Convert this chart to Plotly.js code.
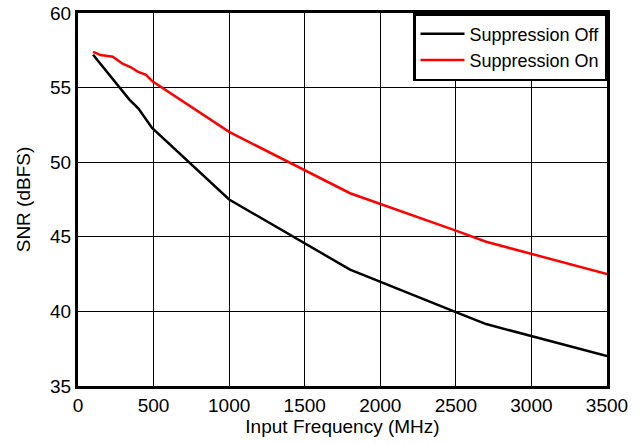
<!DOCTYPE html>
<html>
<head>
<meta charset="utf-8">
<script src="https://cdn.plot.ly/plotly-3.0.1.min.js"></script>
<style>html,body{margin:0;padding:0;background:#fff;}#chart{width:639px;height:444px;}</style>
</head>
<body>
<div id="chart"></div>
<script>
const offFreq = [100, 270, 340, 400, 490, 1000, 1800, 2500, 2700, 3500];
const offSNR  = [57.2, 55.1, 54.2, 53.6, 52.3, 47.5, 42.8, 39.95, 39.15, 37.0];
const onFreq  = [100, 150, 230, 295, 350, 395, 450, 495, 1000, 1800, 2500, 2700, 3500];
const onSNR   = [57.4, 57.18, 57.07, 56.6, 56.36, 56.07, 55.85, 55.4, 52.03, 47.92, 45.41, 44.67, 42.5];
const xTicks = [0, 500, 1000, 1500, 2000, 2500, 3000, 3500];
const yTicks = [35, 40, 45, 50, 55, 60];

const font = {family: 'Liberation Sans, Arial, sans-serif', size: 19, color: '#000'};
const traces = [
  {x: offFreq, y: offSNR, mode: 'lines', name: 'Suppression Off', line: {color: '#000', width: 2.5}},
  {x: onFreq, y: onSNR, mode: 'lines', name: 'Suppression On', line: {color: '#ff0000', width: 2.5}}
];
const layout = {
  width: 639, height: 444,
  margin: {l: 78, r: 32, t: 13, b: 58},
  paper_bgcolor: '#fff', plot_bgcolor: '#fff',
  font: font,
  showlegend: true,
  legend: {x: 1, y: 1, xanchor: 'right', yanchor: 'top', bgcolor: '#fff', bordercolor: '#000', borderwidth: 2.5,
           font: {family: font.family, size: 18, color: '#000'}, tracegroupgap: 0, itemwidth: 44},
  xaxis: {range: [0, 3500], tickvals: xTicks, ticktext: xTicks.map(String), showgrid: true, gridcolor: '#000', gridwidth: 1,
          showline: true, linecolor: '#000', linewidth: 3, mirror: true, zeroline: false, ticks: '', automargin: false,
          tickfont: font, title: {text: 'Input Frequency (MHz)', font: font, standoff: 3}},
  yaxis: {range: [35, 60], tickvals: yTicks, ticktext: yTicks.map(String), showgrid: true, gridcolor: '#000', gridwidth: 1,
          showline: true, linecolor: '#000', linewidth: 3, mirror: true, zeroline: false, ticks: '', automargin: false,
          tickfont: font, title: {text: 'SNR (dBFS)', font: font, standoff: 15}}
};
Plotly.newPlot('chart', traces, layout, {displayModeBar: false, staticPlot: true});
</script>
</body>
</html>
